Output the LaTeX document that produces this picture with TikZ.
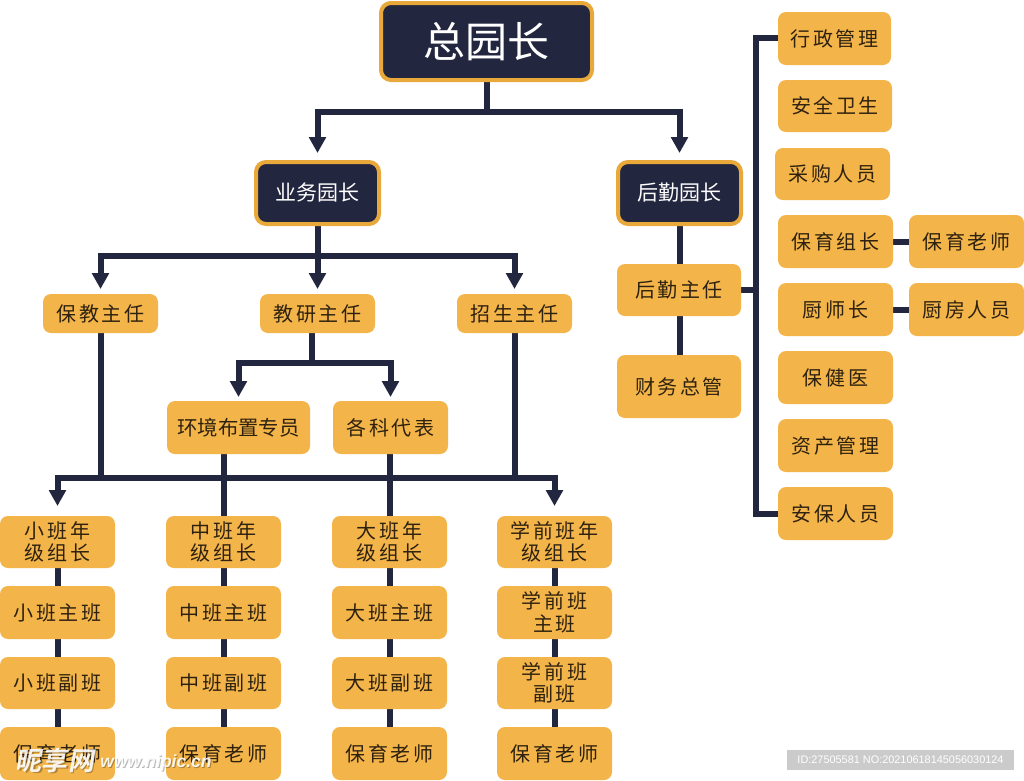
\documentclass[tikz,border=0pt]{standalone}
\usepackage{fontspec}
\usetikzlibrary{arrows.meta,backgrounds,calc}
\newfontfamily\cjkbox[LetterSpace=13]{Noto Sans CJK SC}
\newfontfamily\cjkhead{Noto Sans CJK SC}
\newfontfamily\cjkmark[FakeSlant=0.18]{Noto Sans CJK SC Bold}
\newfontfamily\markfont{Liberation Sans}
\definecolor{navy}{HTML}{22263F}
\definecolor{amber}{HTML}{F3B549}
\definecolor{edgeamber}{HTML}{E9A93A}
\definecolor{ink}{HTML}{2E2110}
\definecolor{stampgrey}{HTML}{CBCBCB}
\tikzset{
  x=1pt,y=-1pt,
  orgbox/.style={fill=amber,rounded corners=8pt,inner sep=0pt,outer sep=0pt,text=ink,align=center,
    font=\cjkbox\fontsize{20}{22.5}\selectfont},
  headbox/.style={fill=navy,draw=edgeamber,line width=4pt,rounded corners=10pt,inner sep=0pt,outer sep=0pt,
    text=white,align=center,font=\cjkhead\fontsize{21}{24}\selectfont},
  wire/.style={draw=navy,line width=6pt},
  arrowwire/.style={wire,-{Triangle[width=16.5pt,length=16pt]},shorten >=#1},
  arrowwire/.default=5pt,
  markshadow/.style={inner sep=0pt,text=black,opacity=.28},
}
% name, x1, y1, x2, y2, style, text
\newcommand{\placebox}[7]{%
  \node[#6,minimum width={(#4)-(#2)},minimum height={(#5)-(#3)}] (#1) at ({((#2)+(#4))/2},{((#3)+(#5))/2}) {#7};}
\begin{document}
\begin{tikzpicture}
\useasboundingbox (0,0) rectangle (1024,780);
\placebox{zong}{381}{3}{592}{80}{headbox}{\fontsize{42}{46}\selectfont 总园长}
\placebox{yewu}{256}{162}{379}{224}{headbox}{业务园长}
\placebox{houqin}{618}{162}{741}{224}{headbox}{后勤园长}
\placebox{baojiao}{43}{294}{158}{333}{orgbox}{保教主任}
\placebox{jiaoyan}{260}{294}{375}{333}{orgbox}{教研主任}
\placebox{zhaosheng}{457}{294}{572}{333}{orgbox}{招生主任}
\placebox{huanjing}{167}{401}{310}{454}{orgbox}{\cjkhead\fontsize{20.4}{22.5}\selectfont 环境布置专员}
\placebox{geke}{333}{401}{448}{454}{orgbox}{各科代表}
% grade columns
\placebox{xa}{0}{516}{115}{568}{orgbox}{小班年\\级组长}
\placebox{xb}{0}{586}{115}{639}{orgbox}{小班主班}
\placebox{xc}{0}{657}{115}{709}{orgbox}{小班副班}
\placebox{xd}{0}{727}{115}{780}{orgbox}{保育老师}
\placebox{za}{166}{516}{281}{568}{orgbox}{中班年\\级组长}
\placebox{zb}{166}{586}{281}{639}{orgbox}{中班主班}
\placebox{zc}{166}{657}{281}{709}{orgbox}{中班副班}
\placebox{zd}{166}{727}{281}{780}{orgbox}{保育老师}
\placebox{da}{332}{516}{447}{568}{orgbox}{大班年\\级组长}
\placebox{db}{332}{586}{447}{639}{orgbox}{大班主班}
\placebox{dc}{332}{657}{447}{709}{orgbox}{大班副班}
\placebox{dd}{332}{727}{447}{780}{orgbox}{保育老师}
\placebox{qa}{497}{516}{612}{568}{orgbox}{学前班年\\级组长}
\placebox{qb}{497}{586}{612}{639}{orgbox}{学前班\\主班}
\placebox{qc}{497}{657}{612}{709}{orgbox}{学前班\\副班}
\placebox{qd}{497}{727}{612}{780}{orgbox}{保育老师}
% logistics
\placebox{hqzr}{617}{264}{741}{316}{orgbox}{后勤主任}
\placebox{caiwu}{617}{355}{741}{418}{orgbox}{财务总管}
\placebox{xingzheng}{778}{12}{891}{65}{orgbox}{行政管理}
\placebox{anquan}{778}{80}{892}{132}{orgbox}{安全卫生}
\placebox{caigou}{775}{148}{890}{200}{orgbox}{采购人员}
\placebox{byzz}{778}{215}{893}{268}{orgbox}{保育组长}
\placebox{byls}{909}{215}{1024}{268}{orgbox}{保育老师}
\placebox{chushi}{778}{283}{893}{336}{orgbox}{厨师长}
\placebox{chufang}{909}{283}{1024}{336}{orgbox}{厨房人员}
\placebox{baojian}{778}{351}{893}{404}{orgbox}{保健医}
\placebox{zichan}{778}{419}{893}{472}{orgbox}{资产管理}
\placebox{anbao}{778}{487}{893}{540}{orgbox}{安保人员}
% junctions
\coordinate (busA) at (486.5,112);
\coordinate (busB) at (317.5,256);
\coordinate (busC) at (312,363);
\coordinate (busD) at (baojiao.south |- 0,478);
\coordinate (busE) at (zhaosheng.south |- 0,478);
\coordinate (trunkTop) at (756,38);
\coordinate (trunkBot) at (756,514);
\begin{pgfonlayer}{background}
\fill[white] (0,0) rectangle (1024,780);
\draw[wire] (zong.south) -- (busA);
\draw[arrowwire=9pt] (busA) -| (yewu.north);
\draw[arrowwire=9pt] (busA) -| (houqin.north);
\draw[wire] (yewu.south) -- (busB);
\draw[arrowwire] (busB) -- (jiaoyan.north);
\draw[arrowwire] (busB) -| (baojiao.north);
\draw[arrowwire] (busB) -| (zhaosheng.north);
\draw[wire] (jiaoyan.south -| busC) -- (busC);
\draw[arrowwire=4pt] (busC) -| (huanjing.north);
\draw[arrowwire=4pt] (busC) -| (geke.north);
\draw[wire] (baojiao.south) -- (busD);
\draw[wire] (zhaosheng.south) -- (busE);
\draw[wire] (busD) -- (busE);
\draw[arrowwire=10pt] (busD) -| (xa.north);
\draw[arrowwire=10pt] (busE) -| (qa.north);
\draw[wire] (huanjing.south -| za.north) -- (za.north);
\draw[wire] (geke.south -| da.north) -- (da.north);
\foreach \c in {x,z,d,q}{
  \draw[wire] (\c a.south) -- (\c b.north);
  \draw[wire] (\c b.south) -- (\c c.north);
  \draw[wire] (\c c.south) -- (\c d.north);
}
\draw[wire] (houqin.south) -- (houqin.south |- hqzr.north);
\draw[wire] (hqzr.south -| houqin.south) -- (houqin.south |- caiwu.north);
\draw[wire] (hqzr.east) -- (hqzr.east -| trunkTop);
\draw[wire] (xingzheng.west |- trunkTop) -- (trunkTop) -- (trunkBot) -- (anbao.west |- trunkBot);
\draw[wire] (byzz.east) -- (byls.west);
\draw[wire] (chushi.east) -- (chufang.west);
\end{pgfonlayer}
% stock-site marks
\node[fill=stampgrey,minimum width=227pt,minimum height=20pt,inner sep=0pt,text=white,
  font=\markfont\fontsize{10.9}{13}\selectfont] (stamp) at (900.5,760) {ID:27505581 NO:20210618145056030124};
\node[markshadow,font=\cjkmark\fontsize{26}{28}\selectfont] (markcnshadow) at (56,762) {昵享网};
\node[markshadow,font=\markfont\bfseries\itshape\fontsize{17.5}{20}\selectfont] (markurlshadow) at (157,764) {www.nipic.cn};
\node[inner sep=0pt,text=white,opacity=.9,font=\cjkmark\fontsize{26}{28}\selectfont] (markcn) at (55,761) {昵享网};
\node[inner sep=0pt,text=white,opacity=.9,font=\markfont\bfseries\itshape\fontsize{17.5}{20}\selectfont] (markurl) at (156,763) {www.nipic.cn};
\end{tikzpicture}
\end{document}
